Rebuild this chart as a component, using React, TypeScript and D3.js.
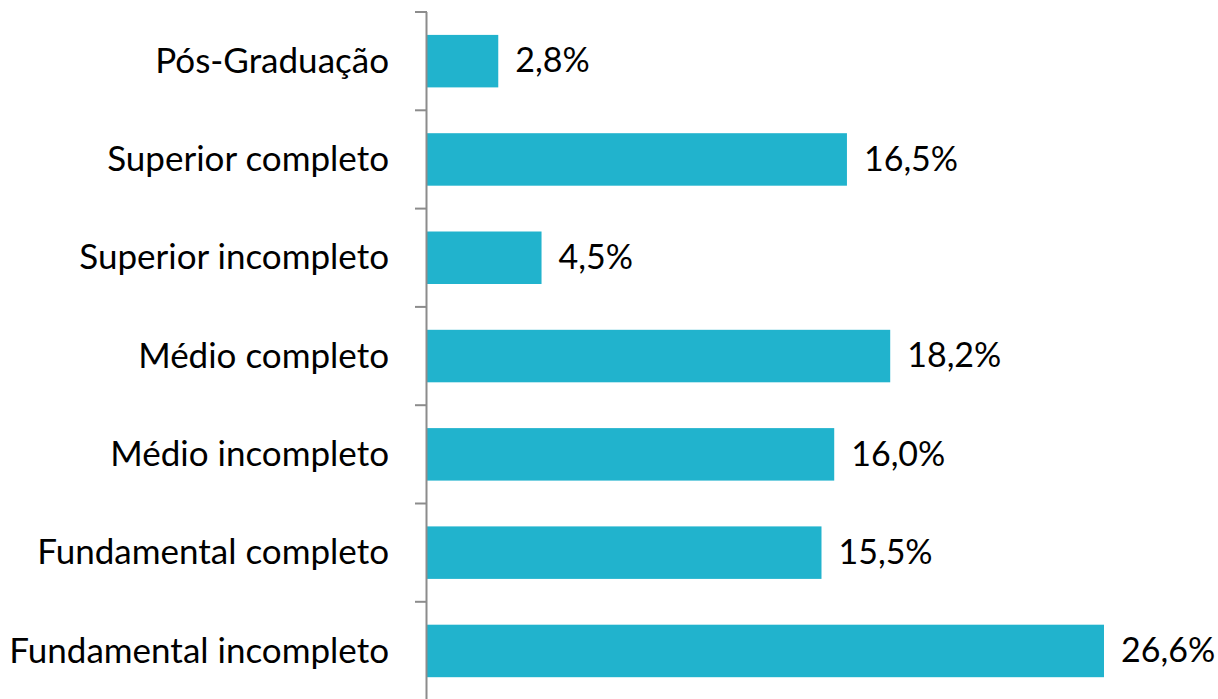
import React from 'react';
import * as d3 from 'd3';

const categories = [
  'Pós-Graduação',
  'Superior completo',
  'Superior incompleto',
  'Médio completo',
  'Médio incompleto',
  'Fundamental completo',
  'Fundamental incompleto',
];
const values = [2.8, 16.5, 4.5, 18.2, 16.0, 15.5, 26.6];

const W = 1218;
const H = 699;
const margin = { top: 12, right: 0, bottom: 0, left: 427 };

const App = () => {
  const x = d3.scaleLinear().domain([0, 26.6]).range([margin.left, 1104]);
  const y = d3
    .scaleBand()
    .domain(categories)
    .range([margin.top, margin.top + 98.3 * categories.length])
    .paddingInner(0.466)
    .paddingOuter(0.233);

  const tickYs = d3.range(categories.length + 1).map(i => margin.top + i * y.step());
  const fmt = (v: number) => v.toFixed(1).replace('.', ',') + '%';
  const font = "Lato, 'Open Sans', sans-serif";

  return (
    <div style={{ position: 'absolute', left: 0, top: 0 }}>
      <svg width={W} height={H} style={{ display: 'block', background: '#fff' }}>
        {categories.map((c, i) => (
          <g key={c}>
            <rect
              x={x(0)}
              y={y(c)}
              width={x(values[i]) - x(0)}
              height={y.bandwidth()}
              fill="#21b3cd"
            />
            <text
              x={margin.left - 38}
              y={(y(c) as number) + y.bandwidth() / 2}
              dy="0.33em"
              textAnchor="end"
              fontFamily={font}
              fontSize={35}
              fill="#000"
            >
              {c}
            </text>
            <text
              x={x(values[i]) + 17}
              y={(y(c) as number) + y.bandwidth() / 2}
              dy="0.33em"
              fontFamily={font}
              fontSize={34}
              fill="#000"
            >
              {fmt(values[i])}
            </text>
          </g>
        ))}
        <line x1={margin.left - 0.5} x2={margin.left - 0.5} y1={margin.top} y2={H} stroke="#8c8c8c" strokeWidth={2} />
        {tickYs.map((t, i) => (
          <line key={i} x1={margin.left - 12} x2={margin.left} y1={t} y2={t} stroke="#8c8c8c" strokeWidth={2} />
        ))}
      </svg>
    </div>
  );
};

export default App;
